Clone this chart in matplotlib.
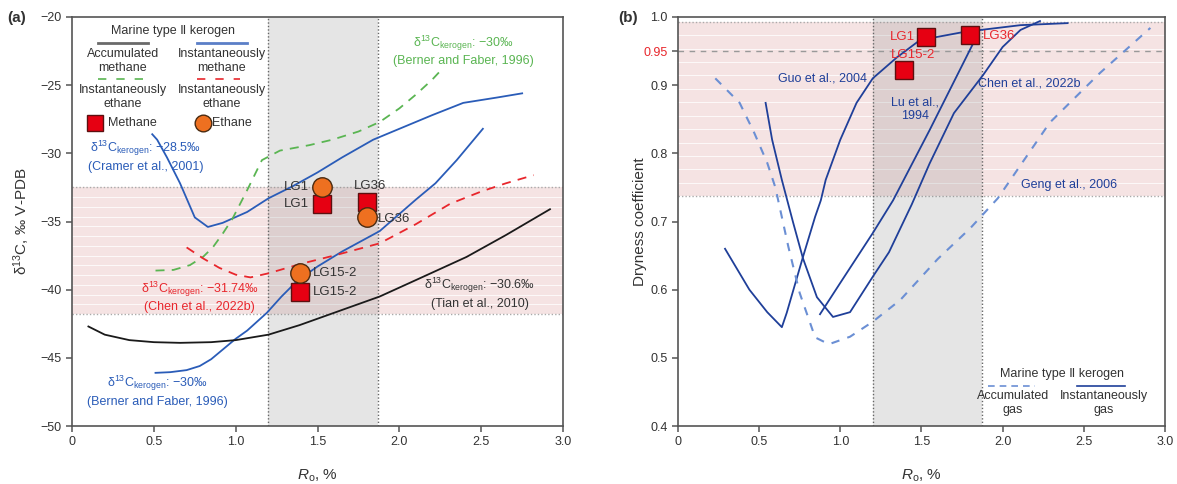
import numpy as np
import matplotlib
matplotlib.use("Agg")
import matplotlib.pyplot as plt

plt.rcParams['font.family'] = ['Liberation Sans', 'DejaVu Sans']
plt.rcParams['mathtext.fontset'] = 'custom'
plt.rcParams['mathtext.rm'] = 'Liberation Sans'
plt.rcParams['mathtext.it'] = 'Liberation Sans:italic'
plt.rcParams['font.size'] = 9

# ---------------- (a) carbon isotope data ----------------
cramer_x = [0.49, 0.52, 0.58, 0.66, 0.75, 0.83, 0.92, 1.07, 1.20, 1.35, 1.50, 1.65, 1.84, 2.08, 2.20, 2.39, 2.60, 2.75]
cramer_y = [-28.6, -29.0, -30.3, -32.2, -34.7, -35.4, -35.1, -34.3, -33.3, -32.4, -31.4, -30.3, -29.0, -27.8, -27.2, -26.3, -25.9, -25.6]

berner_c2_x = [0.51, 0.62, 0.72, 0.80, 0.86, 0.92, 0.98, 1.07, 1.16, 1.27, 1.45, 1.59, 1.75, 1.88, 2.00, 2.10, 2.20, 2.27]
berner_c2_y = [-38.6, -38.55, -38.2, -37.6, -36.9, -35.9, -34.8, -32.7, -30.5, -29.8, -29.4, -29.0, -28.4, -27.7, -26.7, -25.7, -24.6, -23.7]

chen_c2_x = [0.70, 0.80, 0.90, 1.00, 1.09, 1.20, 1.40, 1.60, 1.88, 2.10, 2.31, 2.50, 2.65, 2.82]
chen_c2_y = [-36.9, -37.7, -38.4, -38.9, -39.1, -38.8, -38.1, -37.5, -36.6, -35.2, -33.7, -32.8, -32.2, -31.6]

berner_c1_x = [0.51, 0.60, 0.70, 0.78, 0.85, 0.92, 1.00, 1.07, 1.19, 1.28, 1.38, 1.50, 1.65, 1.88, 2.10, 2.22, 2.35, 2.51]
berner_c1_y = [-46.1, -46.05, -45.9, -45.6, -45.1, -44.4, -43.6, -43.0, -41.7, -40.5, -39.3, -38.3, -37.2, -35.7, -33.4, -32.2, -30.5, -28.2]

tian_x = [0.10, 0.20, 0.35, 0.50, 0.66, 0.85, 1.00, 1.20, 1.39, 1.60, 1.88, 2.10, 2.41, 2.65, 2.92]
tian_y = [-42.7, -43.3, -43.7, -43.85, -43.9, -43.85, -43.7, -43.3, -42.6, -41.7, -40.5, -39.3, -37.6, -36.0, -34.1]

samples = ['LG1', 'LG36', 'LG15-2']
sample_ro = [1.53, 1.80, 1.39]
methane_d13c = [-33.7, -33.6, -40.2]
ethane_d13c = [-32.5, -34.7, -38.8]

# ---------------- (b) dryness data ----------------
guo_x = [0.29, 0.44, 0.55, 0.64, 0.67, 0.77, 0.845, 0.88, 0.91, 1.00, 1.10, 1.20, 1.35, 1.49, 1.76, 2.11, 2.40]
guo_y = [0.660, 0.600, 0.567, 0.545, 0.566, 0.648, 0.707, 0.731, 0.761, 0.820, 0.874, 0.910, 0.941, 0.966, 0.978, 0.988, 0.991]

chen_dry_x = [0.54, 0.58, 0.64, 0.71, 0.77, 0.856, 0.955, 1.06, 1.20, 1.30, 1.44, 1.55, 1.70, 1.88, 2.00, 2.11, 2.23]
chen_dry_y = [0.874, 0.820, 0.761, 0.698, 0.646, 0.589, 0.560, 0.567, 0.619, 0.655, 0.725, 0.785, 0.859, 0.915, 0.956, 0.981, 0.994]

lu_x = [0.875, 1.00, 1.20, 1.325, 1.55, 1.82]
lu_y = [0.564, 0.610, 0.683, 0.731, 0.834, 0.962]

geng_x = [0.23, 0.38, 0.47, 0.55, 0.60, 0.68, 0.75, 0.845, 0.93, 1.06, 1.20, 1.37, 1.60, 1.80, 1.97, 2.29, 2.60, 2.91]
geng_y = [0.910, 0.874, 0.830, 0.786, 0.750, 0.663, 0.595, 0.530, 0.520, 0.531, 0.553, 0.585, 0.645, 0.690, 0.734, 0.845, 0.918, 0.984]

dry_ro = [1.53, 1.39, 1.80]
dry_val = [0.971, 0.922, 0.974]

ro_band = (1.2, 1.87)
d13c_band = (-41.8, -32.5)
dry_band = (0.737, 0.993)

BLUE = '#2a5cb8'
NAVY = '#1f3f99'
LBLUE = '#6b8fd4'
RED = '#e8262c'
GREEN = '#5ab552'
TXT = '#333333'
SQ_FACE, SQ_EDGE = '#e60012', '#5c1010'
CI_FACE, CI_EDGE = '#ee7020', '#4a2a10'
PINK = '#f5e3e3'

fig = plt.figure(figsize=(11.77, 4.84), dpi=100)
ax1 = fig.add_axes([0.0612, 0.1198, 0.4172, 0.8451])
ax2 = fig.add_axes([0.576, 0.1198, 0.4138, 0.8451])


def bands(ax, ylo, yhi):
    ax.axhspan(ylo, yhi, color=PINK, zorder=0, lw=0)
    for yy in np.linspace(ylo, yhi, 14)[1:-1]:
        ax.axhline(yy, color='white', lw=0.7, alpha=0.8, zorder=0.5)
    ax.axhline(ylo, color='#aaaaaa', ls=(0, (1, 1.5)), lw=1, zorder=0.6)
    ax.axhline(yhi, color='#aaaaaa', ls=(0, (1, 1.5)), lw=1, zorder=0.6)
    ax.axvspan(ro_band[0], ro_band[1], color='#808080', alpha=0.2, lw=0, zorder=0.7)
    ax.axvline(ro_band[0], color='#666666', ls=(0, (1, 1.5)), lw=1, zorder=0.8)
    ax.axvline(ro_band[1], color='#666666', ls=(0, (1, 1.5)), lw=1, zorder=0.8)


def frame(ax):
    for s in ax.spines.values():
        s.set_color('#555555')
        s.set_linewidth(1.2)
    ax.tick_params(direction='out', length=4, width=1.1, color='#555555', labelcolor=TXT, labelsize=9)
    ax.set_xlim(0, 3.0)
    ax.set_xticks([0, 0.5, 1.0, 1.5, 2.0, 2.5, 3.0])
    ax.set_xticklabels(['0', '0.5', '1.0', '1.5', '2.0', '2.5', '3.0'])
    ax.set_xlabel('$R_{\\rm o}$, %', fontsize=11, color=TXT, labelpad=14)


# ---------------- panel (a) ----------------
ax1.set_ylim(-50, -20)
bands(ax1, d13c_band[0], d13c_band[1])
frame(ax1)
ax1.set_yticks(np.arange(-50, -19, 5))
ax1.set_ylabel('δ$^{13}$C, ‰ V-PDB', fontsize=11, color=TXT)
ax1.yaxis.set_label_coords(-0.082, 0.5)

ax1.plot(cramer_x, cramer_y, color=BLUE, lw=1.3, zorder=3)
ax1.plot(berner_c1_x, berner_c1_y, color=BLUE, lw=1.3, zorder=3)
ax1.plot(tian_x, tian_y, color='#1a1a1a', lw=1.3, zorder=3)
ax1.plot(berner_c2_x, berner_c2_y, color=GREEN, lw=1.3, ls=(0, (5, 4)), zorder=3)
ax1.plot(chen_c2_x, chen_c2_y, color=RED, lw=1.3, ls=(0, (5, 4)), zorder=3)

ax1.plot(sample_ro, methane_d13c, ls='none', marker='s', ms=13, mfc=SQ_FACE, mec=SQ_EDGE, mew=1, zorder=5)
ax1.plot(sample_ro, ethane_d13c, ls='none', marker='o', ms=14, mfc=CI_FACE, mec=CI_EDGE, mew=1, zorder=5)

ax1.text(1.45, ethane_d13c[0], 'LG1', ha='right', va='center', fontsize=9.5, color=TXT, zorder=6)
ax1.text(1.45, methane_d13c[0], 'LG1', ha='right', va='center', fontsize=9.5, color=TXT, zorder=6)
ax1.text(1.82, -32.4, 'LG36', ha='center', va='center', fontsize=9.5, color=TXT, zorder=6)
ax1.text(1.87, ethane_d13c[1] - 0.1, 'LG36', ha='left', va='center', fontsize=9.5, color=TXT, zorder=6)
ax1.text(1.47, ethane_d13c[2], 'LG15-2', ha='left', va='center', fontsize=9.5, color=TXT, zorder=6)
ax1.text(1.47, methane_d13c[2], 'LG15-2', ha='left', va='center', fontsize=9.5, color=TXT, zorder=6)

ker = 'δ$^{13}$C$_{\\rm kerogen}$: '
ax1.text(2.39, -22.45, ker + '−30‰\n(Berner and Faber, 1996)', ha='center', va='center',
         color=GREEN, fontsize=9, linespacing=1.3)
ax1.text(0.45, -30.2, ker + '−28.5‰\n(Cramer et al., 2001)', ha='center', va='center',
         color=BLUE, fontsize=9, linespacing=1.3)
ax1.text(0.78, -40.5, ker + '−31.74‰\n(Chen et al., 2022b)', ha='center', va='center',
         color=RED, fontsize=9, linespacing=1.3)
ax1.text(2.49, -40.25, ker + '−30.6‰\n(Tian et al., 2010)', ha='center', va='center',
         color=TXT, fontsize=9, linespacing=1.3)
ax1.text(0.52, -47.4, ker + '−30‰\n(Berner and Faber, 1996)', ha='center', va='center',
         color=BLUE, fontsize=9, linespacing=1.3)

# legend (a)
ax1.text(0.617, -21.03, 'Marine type Ⅱ kerogen', ha='center', va='center', fontsize=9, color=TXT)
ax1.plot([0.159, 0.464], [-21.9, -21.9], color='#6a6a6a', lw=2)
ax1.plot([0.764, 1.069], [-21.9, -21.9], color='#5b7fc7', lw=2)
ax1.text(0.31, -23.2, 'Accumulated\nmethane', ha='center', va='center', fontsize=9, color=TXT, linespacing=1.2)
ax1.text(0.916, -23.2, 'Instantaneously\nmethane', ha='center', va='center', fontsize=9, color=TXT, linespacing=1.2)
ax1.plot([0.159, 0.434], [-24.55, -24.55], color=GREEN, lw=1.2, ls=(0, (5, 6)))
ax1.plot([0.764, 1.026], [-24.55, -24.55], color=RED, lw=1.2, ls=(0, (5, 6)))
ax1.text(0.31, -25.87, 'Instantaneously\nethane', ha='center', va='center', fontsize=9, color=TXT, linespacing=1.2)
ax1.text(0.916, -25.87, 'Instantaneously\nethane', ha='center', va='center', fontsize=9, color=TXT, linespacing=1.2)
ax1.plot([0.14], [-27.78], marker='s', ms=11, mfc=SQ_FACE, mec=SQ_EDGE, mew=1, ls='none')
ax1.text(0.22, -27.78, 'Methane', ha='left', va='center', fontsize=9, color=TXT)
ax1.plot([0.80], [-27.78], marker='o', ms=12, mfc=CI_FACE, mec=CI_EDGE, mew=1, ls='none')
ax1.text(0.855, -27.78, 'Ethane', ha='left', va='center', fontsize=9, color=TXT)

# ---------------- panel (b) ----------------
ax2.set_ylim(0.4, 1.0)
bands(ax2, dry_band[0], dry_band[1])
frame(ax2)
ax2.axhline(0.95, color='#999999', lw=1, ls=(0, (4, 4)), zorder=1)
ax2.set_yticks([0.4, 0.5, 0.6, 0.7, 0.8, 0.9, 0.95, 1.0])
ax2.set_yticklabels(['0.4', '0.5', '0.6', '0.7', '0.8', '0.9', '0.95', '1.0'])
ax2.get_yticklabels()[6].set_color(RED)
ax2.set_ylabel('Dryness coefficient', fontsize=11, color=TXT)
ax2.yaxis.set_label_coords(-0.064, 0.5)

ax2.plot(guo_x, guo_y, color=NAVY, lw=1.3, zorder=3)
ax2.plot(chen_dry_x, chen_dry_y, color=NAVY, lw=1.3, zorder=3)
ax2.plot(lu_x, lu_y, color=NAVY, lw=1.3, zorder=3)
ax2.plot(geng_x, geng_y, color=LBLUE, lw=1.5, ls=(0, (4, 4)), zorder=3)

ax2.plot(dry_ro, dry_val, ls='none', marker='s', ms=13, mfc=SQ_FACE, mec=SQ_EDGE, mew=1, zorder=5)
ax2.text(1.46, dry_val[0], 'LG1', ha='right', va='center', fontsize=9.5, color=RED, zorder=6)
ax2.text(1.45, 0.944, 'LG15-2', ha='center', va='center', fontsize=9.5, color=RED, zorder=6)
ax2.text(1.88, dry_val[2] - 0.002, 'LG36', ha='left', va='center', fontsize=9.5, color=RED, zorder=6)

ax2.text(0.89, 0.910, 'Guo et al., 2004', ha='center', va='center', fontsize=9, color=NAVY)
ax2.text(1.46, 0.865, 'Lu et al.,\n1994', ha='center', va='center', fontsize=9, color=NAVY, linespacing=1.2)
ax2.text(1.85, 0.903, 'Chen et al., 2022b', ha='left', va='center', fontsize=9, color=NAVY)
ax2.text(2.11, 0.754, 'Geng et al., 2006', ha='left', va='center', fontsize=9, color=NAVY)

# legend (b)
ax2.text(2.366, 0.4763, 'Marine type Ⅱ kerogen', ha='center', va='center', fontsize=9, color=TXT)
ax2.plot([1.91, 2.20], [0.4587, 0.4587], color=LBLUE, lw=1.2, ls=(0, (4, 3)))
ax2.plot([2.46, 2.754], [0.4587, 0.4587], color=NAVY, lw=1.2)
ax2.text(2.064, 0.434, 'Accumulated\ngas', ha='center', va='center', fontsize=9, color=TXT, linespacing=1.2)
ax2.text(2.625, 0.434, 'Instantaneously\ngas', ha='center', va='center', fontsize=9, color=TXT, linespacing=1.2)

fig.text(0.006, 0.962, '(a)', fontsize=11, fontweight='bold', color=TXT, va='center')
fig.text(0.525, 0.962, '(b)', fontsize=11, fontweight='bold', color=TXT, va='center')

fig.savefig('out.png', dpi=100)
